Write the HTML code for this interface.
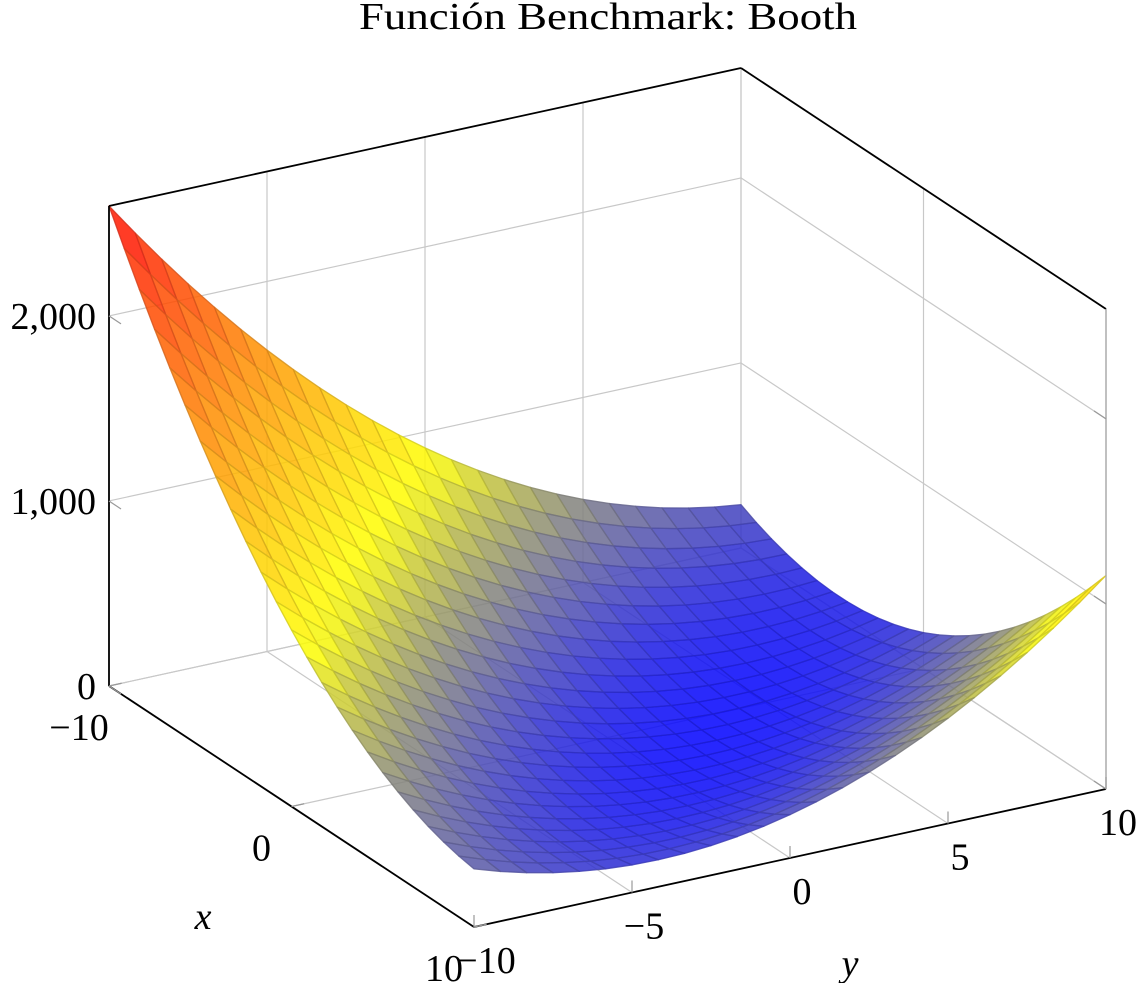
<!DOCTYPE html>
<html><head><meta charset="utf-8">
<style>
html,body{margin:0;padding:0;background:#fff;}
svg{display:block;}
text{font-family:"Liberation Serif",serif;fill:#000;}
</style></head>
<body>
<svg id="chart" width="1146" height="983" viewBox="0 0 1146 983" xmlns="http://www.w3.org/2000/svg">
<text x="608" y="29" font-size="38" text-anchor="middle" textLength="498" lengthAdjust="spacingAndGlyphs">Función Benchmark: Booth</text>
<g id="grid"></g>
<g id="surface"></g>
<g id="frame"></g>
<g id="labels"></g>
<text x="203" y="929" font-size="38" font-style="italic" text-anchor="middle">x</text>
<text x="850" y="976" font-size="38" font-style="italic" text-anchor="middle">y</text>
</svg>
<script>
const xDomain = [-10, 10];
const yDomain = [-10, 10];
const zDomain = [0, 2594];
const xTicks = [-10, 0, 10];
const yTicks = [-10, -5, 0, 5, 10];
const zTicks = [0, 1000, 2000];
const zTickLabels = ["0", "1,000", "2,000"];
const samples = 25;

const NS = "http://www.w3.org/2000/svg";
const O = [109, 686];
const EX = [365, 241];
const EY = [632, -138];
const EZ = 480;
function proj(x, y, z) {
  const fx = (x - xDomain[0]) / (xDomain[1] - xDomain[0]);
  const fy = (y - yDomain[0]) / (yDomain[1] - yDomain[0]);
  const fz = (z - zDomain[0]) / (zDomain[1] - zDomain[0]);
  return [O[0] + fx * EX[0] + fy * EY[0], O[1] + fx * EX[1] + fy * EY[1] - fz * EZ];
}
function booth(x, y) { return (x + 2*y - 7)**2 + (2*x + y - 5)**2; }
function mk(tag, attrs, parent) {
  const el = document.createElementNS(NS, tag);
  for (const k in attrs) el.setAttribute(k, attrs[k]);
  parent.appendChild(el);
  return el;
}
function line(p, q, stroke, w, parent, name) {
  const el = mk("line", {x1:p[0], y1:p[1], x2:q[0], y2:q[1], stroke:stroke, "stroke-width":w}, parent);
  
  
  return el;
}
const grid = document.getElementById("grid");
const G = "#c8c8c8";
const [x0, x1] = xDomain, [y0, y1] = yDomain, [z0, z1] = zDomain;
xTicks.forEach(x => line(proj(x, y0, 0), proj(x, y1, 0), G, 1.2, grid, "floor-grid-x"));
yTicks.forEach(y => line(proj(x0, y, 0), proj(x1, y, 0), G, 1.2, grid, "floor-grid-y"));
zTicks.forEach(z => line(proj(x0, y0, z), proj(x0, y1, z), G, 1.2, grid, "wall-grid-z"));
yTicks.forEach(y => line(proj(x0, y, 0), proj(x0, y, z1), G, 1.2, grid, "wall-grid-y"));
zTicks.forEach(z => line(proj(x0, y1, z), proj(x1, y1, z), G, 1.2, grid, "wall2-grid-z"));
xTicks.forEach(x => line(proj(x, y1, 0), proj(x, y1, z1), G, 1.2, grid, "wall2-grid-x"));

const cmap = [[0,0,255],[255,255,0],[255,128,0],[255,0,0]];
function color(t) {
  t = Math.max(0, Math.min(1, t)) * 3;
  const i = Math.min(2, Math.floor(t)), f = t - i;
  return cmap[i].map((c, k) => Math.round(c + (cmap[i+1][k] - c) * f));
}
const surf = document.getElementById("surface");
const xs = [], ys = [];
for (let i = 0; i < samples; i++) {
  xs.push(x0 + (x1 - x0) * i / (samples - 1));
  ys.push(y0 + (y1 - y0) * i / (samples - 1));
}
let zmin = Infinity, zmax = -Infinity;
xs.forEach(x => ys.forEach(y => { const v = booth(x, y); zmin = Math.min(zmin, v); zmax = Math.max(zmax, v); }));
const cells = [];
for (let i = 0; i < samples - 1; i++) for (let j = 0; j < samples - 1; j++) {
  const pts = [[xs[i],ys[j]],[xs[i+1],ys[j]],[xs[i+1],ys[j+1]],[xs[i],ys[j+1]]];
  const zs = pts.map(p => booth(p[0], p[1]));
  const zm = zs.reduce((a,b)=>a+b,0)/4;
  const depth = (xs[i]+xs[i+1])/2 - (ys[j]+ys[j+1])/2;
  cells.push({pts, zs, zm, depth});
}
cells.sort((a, b) => a.depth - b.depth);
cells.forEach(c => {
  const d = c.pts.map((p, k) => proj(p[0], p[1], c.zs[k]).map(v => v.toFixed(2)).join(",")).join(" ");
  const col = color((c.zm - zmin) / (zmax - zmin));
  const dark = col.map(v => Math.round(v * 0.72 + 30));
  const el = mk("polygon", {points: d, fill: `rgb(${col.join(",")})`, "fill-opacity": 0.85,
    stroke: `rgb(${dark.join(",")})`, "stroke-opacity": 0.85, "stroke-width": 1.3, "stroke-linejoin": "round"}, surf);
  
  
});

const fr = document.getElementById("frame");
const K = "#000";
line(proj(x0, y0, 0), proj(x1, y0, 0), K, 1.8, fr, "x-axis-line");
line(proj(x1, y0, 0), proj(x1, y1, 0), K, 1.8, fr, "y-axis-line");
line(proj(x0, y0, 0), proj(x0, y0, z1), K, 1.8, fr, "z-axis-line");
line(proj(x0, y0, z1), proj(x0, y1, z1), K, 1.8, fr, "top-edge-left");
line(proj(x0, y1, z1), proj(x1, y1, z1), K, 1.8, fr, "top-edge-right");
line(proj(x1, y1, 0), proj(x1, y1, z1), "#aaa", 1.4, fr, "right-edge");
xTicks.forEach(x => { const p = proj(x, y0, 0); line(p, [p[0] + 0.02*EY[0], p[1] + 0.02*EY[1]], "#999", 1.2, fr, "x-tick"); });
yTicks.forEach(y => { const p = proj(x1, y, 0); line(p, [p[0], p[1] - 12], "#999", 1.2, fr, "y-tick"); });
zTicks.forEach(z => { const p = proj(x0, y0, z); line(p, [p[0] + 12, p[1] + 8], "#999", 1.2, fr, "z-tick"); });
zTicks.forEach(z => { const p = proj(x1, y1, z); line(p, [p[0] - 12, p[1] - 8], "#999", 1.2, fr, "z-tick-right"); });

const lab = document.getElementById("labels");
function txt(s, x, y, anchor, name) {
  const el = mk("text", {x, y, "font-size": 38, "text-anchor": anchor}, lab);
  el.textContent = s;
  
  
}
zTicks.forEach((z, k) => { const p = proj(x0, y0, z); txt(zTickLabels[k], p[0] - 13, p[1] + 13, "end", "z-tick-label"); });
xTicks.forEach(x => { const p = proj(x, y0, 0); txt(String(x).replace("-", "\u2212"), p[0] - 30, p[1] + 54, "middle", "x-tick-label"); });
yTicks.forEach(y => { const p = proj(x1, y, 0); txt(String(y).replace("-", "\u2212"), p[0] + 12, p[1] + 46, "middle", "y-tick-label"); });
</script>
</body></html>
